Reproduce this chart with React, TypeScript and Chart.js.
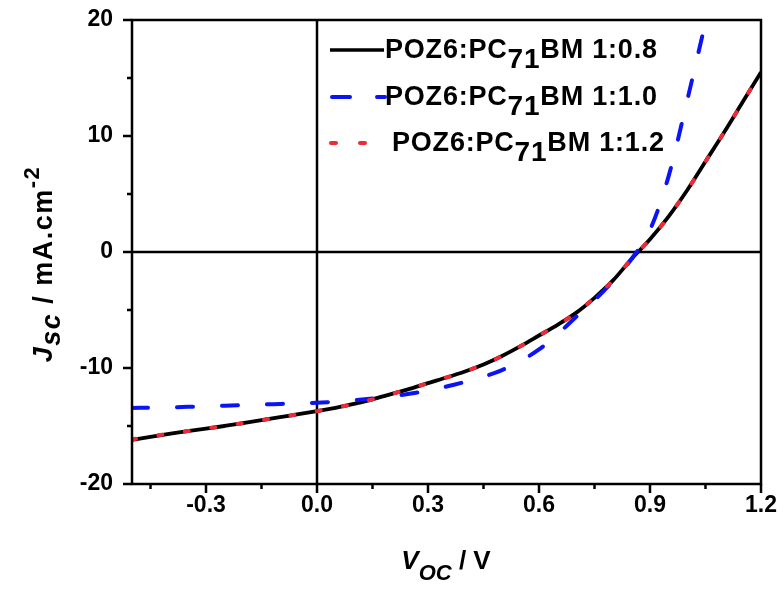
import React, { useEffect, useRef } from "react";
import { Chart, registerables } from "chart.js";

Chart.register(...registerables);

const voltage = [-0.5, -0.45, -0.4, -0.35, -0.3, -0.25, -0.2, -0.15, -0.1, -0.05, 0, 0.05, 0.1, 0.15, 0.2, 0.25, 0.3, 0.35, 0.4, 0.45, 0.5, 0.55, 0.6, 0.65, 0.7, 0.75, 0.8, 0.85, 0.9, 0.95, 1.0, 1.05, 1.1, 1.15, 1.2];
const j08 = [-16.2, -15.93, -15.68, -15.45, -15.23, -15.0, -14.76, -14.5, -14.24, -13.98, -13.72, -13.43, -13.1, -12.7, -12.25, -11.8, -11.3, -10.82, -10.3, -9.7, -8.97, -8.12, -7.2, -6.28, -5.25, -3.95, -2.45, -0.6, 1.1, 3.05, 5.3, 7.8, 10.3, 12.9, 15.5];
const j10 = [-13.45, -13.42, -13.39, -13.35, -13.3, -13.25, -13.2, -13.15, -13.1, -13.05, -13.0, -12.9, -12.78, -12.63, -12.45, -12.22, -11.95, -11.6, -11.2, -10.75, -10.18, -9.4, -8.4, -7.1, -5.6, -4.15, -2.5, -0.6, 1.9, 6.5, 13.0, 19.8, 26.5];
const j12 = [-16.15, -15.9, -15.66, -15.44, -15.22, -15.0, -14.76, -14.5, -14.24, -13.98, -13.72, -13.43, -13.1, -12.7, -12.25, -11.8, -11.3, -10.82, -10.3, -9.7, -8.97, -8.12, -7.2, -6.28, -5.25, -3.95, -2.45, -0.6, 1.1, 3.05, 5.3, 7.8, 10.3, 12.9, 15.5];

const seriesLabels = ["1:0.8", "1:1.0", "1:1.2"];
const xTickValues = [-0.3, 0, 0.3, 0.6, 0.9, 1.2];
const xMinorTicks = [-0.45, -0.15, 0.15, 0.45, 0.75, 1.05];
const yTickValues = [-20, -10, 0, 10, 20];
const yMinorTicks = [-15, -5, 5, 15];

const FAMILY = '"Liberation Sans", Arial, sans-serif';
const RED = "#ee2a35";
const BLUE = "#0a14f5";

type Part = { text: string; font: string; dy?: number };

function partsWidth(ctx: CanvasRenderingContext2D, parts: Part[]) {
  let w = 0;
  for (const p of parts) {
    ctx.font = p.font;
    w += ctx.measureText(p.text).width;
  }
  return w;
}

function drawParts(ctx: CanvasRenderingContext2D, x: number, y: number, parts: Part[]) {
  let cx = x;
  for (const p of parts) {
    ctx.font = p.font;
    ctx.fillText(p.text, cx, y + (p.dy || 0));
    cx += ctx.measureText(p.text).width;
  }
}

const decorPlugin = {
  id: "decor",
  beforeDatasetsDraw(chart: any) {
    const ctx = chart.ctx as CanvasRenderingContext2D;
    const { left, right, top, bottom } = chart.chartArea;
    const xs = chart.scales.x;
    const ys = chart.scales.y;
    ctx.save();
    ctx.strokeStyle = "#000";
    ctx.lineWidth = 2.5;
    const x0 = xs.getPixelForValue(0);
    const y0 = ys.getPixelForValue(0);
    ctx.beginPath();
    ctx.moveTo(x0, top);
    ctx.lineTo(x0, bottom);
    ctx.moveTo(left, y0);
    ctx.lineTo(right, y0);
    ctx.stroke();
    ctx.restore();
  },
  afterDatasetsDraw(chart: any) {
    const ctx = chart.ctx as CanvasRenderingContext2D;
    const { left, right, top, bottom } = chart.chartArea;
    const xs = chart.scales.x;
    const ys = chart.scales.y;
    ctx.save();
    ctx.strokeStyle = "#000";
    ctx.lineWidth = 2.5;
    ctx.strokeRect(left, top, right - left, bottom - top);
    ctx.beginPath();
    for (const v of xTickValues) {
      const px = xs.getPixelForValue(v);
      ctx.moveTo(px, bottom);
      ctx.lineTo(px, bottom + 9);
    }
    for (const v of xMinorTicks) {
      const px = xs.getPixelForValue(v);
      ctx.moveTo(px, bottom);
      ctx.lineTo(px, bottom + 5);
    }
    for (const v of yTickValues) {
      const py = ys.getPixelForValue(v);
      ctx.moveTo(left, py);
      ctx.lineTo(left - 9, py);
    }
    for (const v of yMinorTicks) {
      const py = ys.getPixelForValue(v);
      ctx.moveTo(left, py);
      ctx.lineTo(left - 5, py);
    }
    ctx.stroke();
    ctx.restore();
  },
  afterDraw(chart: any) {
    const ctx = chart.ctx as CanvasRenderingContext2D;
    ctx.save();
    ctx.fillStyle = "#000";
    ctx.textBaseline = "alphabetic";
    ctx.textAlign = "left";
    const lf = `bold 27px ${FAMILY}`;

    // Legend
    const rows = [
      { y: 58, lineY: 50, textX: 385 },
      { y: 105, lineY: 97, textX: 385 },
      { y: 151, lineY: 143, textX: 392 },
    ];
    ctx.strokeStyle = "#000";
    ctx.lineWidth = 3.5;
    ctx.beginPath();
    ctx.moveTo(330, rows[0].lineY);
    ctx.lineTo(384, rows[0].lineY);
    ctx.stroke();
    ctx.strokeStyle = BLUE;
    ctx.lineWidth = 4;
    ctx.lineCap = "round";
    ctx.beginPath();
    ctx.moveTo(332, rows[1].lineY);
    ctx.lineTo(350, rows[1].lineY);
    ctx.moveTo(377, rows[1].lineY);
    ctx.lineTo(385, rows[1].lineY);
    ctx.stroke();
    ctx.strokeStyle = RED;
    ctx.beginPath();
    ctx.moveTo(331, rows[2].lineY);
    ctx.lineTo(336, rows[2].lineY);
    ctx.moveTo(360, rows[2].lineY);
    ctx.lineTo(365, rows[2].lineY);
    ctx.stroke();

    (ctx as any).letterSpacing = "0.8px";
    rows.forEach((r, i) => {
      drawParts(ctx, r.textX, r.y, [
        { text: "POZ6:PC", font: lf },
        { text: "71", font: `bold 28px ${FAMILY}`, dy: 10 },
        { text: "BM " + seriesLabels[i], font: lf },
      ]);
    });
    (ctx as any).letterSpacing = "0px";

    // X title
    const tf = `bold 26px ${FAMILY}`;
    const tfi = `italic bold 26px ${FAMILY}`;
    const xParts: Part[] = [
      { text: "V", font: tfi },
      { text: "OC", font: `italic bold 22px ${FAMILY}`, dy: 11 },
      { text: " / V", font: tf },
    ];
    const xw = partsWidth(ctx, xParts);
    drawParts(ctx, 446 - xw / 2, 569, xParts);

    // Y title
    (ctx as any).letterSpacing = "1.5px";
    const yf = `bold 27px ${FAMILY}`;
    const yfi = `italic bold 27px ${FAMILY}`;
    const yParts: Part[] = [
      { text: "J", font: yfi },
      { text: "sc", font: yfi, dy: 8 },
      { text: " / mA.cm", font: yf },
      { text: "-2", font: `bold 22px ${FAMILY}`, dy: -13 },
    ];
    const yw = partsWidth(ctx, yParts);
    ctx.translate(52, 264);
    ctx.rotate(-Math.PI / 2);
    drawParts(ctx, -yw / 2, 0, yParts);
    ctx.restore();
  },
};

export default function App() {
  const ref = useRef<HTMLCanvasElement | null>(null);
  useEffect(() => {
    document.body.style.margin = "0";
    const canvas = ref.current!;
    const chart = new Chart(canvas, {
      type: "line",
      data: {
        datasets: [
          {
            label: "POZ6:PC71BM " + seriesLabels[0],
            data: voltage.map((v, i) => ({ x: v, y: j08[i] })),
            borderColor: "#000",
            borderWidth: 3.8,
            pointRadius: 0,
            cubicInterpolationMode: "monotone",
            order: 2,
          },
          {
            label: "POZ6:PC71BM " + seriesLabels[1],
            data: j10.map((y, i) => ({ x: voltage[i], y })),
            borderColor: BLUE,
            borderWidth: 4,
            borderDash: [16, 29],
            borderCapStyle: "round",
            pointRadius: 0,
            cubicInterpolationMode: "monotone",
            order: 1,
          },
          {
            label: "POZ6:PC71BM " + seriesLabels[2],
            data: voltage.map((v, i) => ({ x: v, y: j12[i] })),
            borderColor: RED,
            borderWidth: 4,
            borderDash: [4, 22.7],
            borderCapStyle: "round",
            pointRadius: 0,
            cubicInterpolationMode: "monotone",
            order: 0,
          },
        ],
      },
      options: {
        animation: false,
        responsive: false,
        devicePixelRatio: 1,
        layout: { padding: { left: 0, top: 20, right: 22, bottom: 0 } },
        plugins: { legend: { display: false }, tooltip: { enabled: false } },
        scales: {
          x: {
            type: "linear",
            min: -0.5,
            max: 1.2,
            grid: { display: false, drawTicks: false },
            border: { display: false },
            afterBuildTicks: (s: any) => {
              s.ticks = xTickValues.map((v) => ({ value: v }));
            },
            afterFit: (s: any) => {
              s.height = 106;
              s.paddingLeft = 0;
              s.paddingRight = 0;
            },
            ticks: {
              color: "#000",
              padding: 8,
              font: { family: FAMILY, size: 23, weight: "bold" },
              maxRotation: 0,
              callback: (v: any) => Number(v).toFixed(1),
            },
          },
          y: {
            type: "linear",
            min: -20,
            max: 20,
            grid: { display: false, drawTicks: false },
            border: { display: false },
            afterBuildTicks: (s: any) => {
              s.ticks = yTickValues.map((v) => ({ value: v }));
            },
            afterFit: (s: any) => {
              s.width = 132;
              s.paddingTop = 0;
              s.paddingBottom = 0;
            },
            ticks: {
              color: "#000",
              padding: 19,
              font: { family: FAMILY, size: 23, weight: "bold" },
              callback: (v: any) => String(v),
            },
          },
        },
      },
      plugins: [decorPlugin],
    } as any);
    return () => chart.destroy();
  }, []);
  return <canvas ref={ref} width={783} height={590} style={{ display: "block", width: 783, height: 590 }} />;
}
